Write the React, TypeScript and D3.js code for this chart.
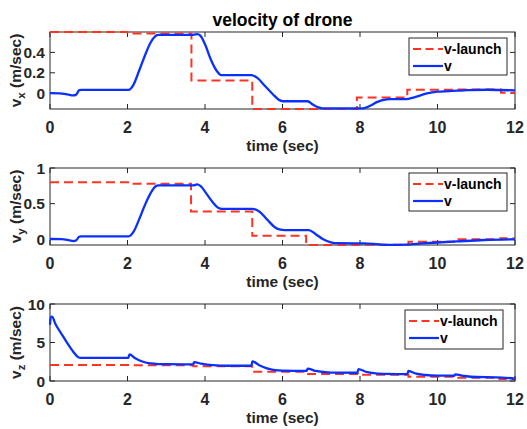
import React from "react";
import * as d3 from "d3";

const W = 527;
const H = 429;

const TIME_TICKS = [0, 2, 4, 6, 8, 10, 12];

// ---- vx ----
const VX_LAUNCH_T = [0, 2.0, 3.65, 5.22, 6.62, 7.92, 9.22, 10.45, 11.64, 12];
const VX_LAUNCH_V = [0.6, 0.585, 0.124, -0.155, -0.155, -0.043, 0.033, 0.035, 0.005, 0.005];
const VX_T = [0, 0.25, 0.45, 0.6, 0.68, 0.75, 0.8, 2.03, 2.15, 2.3, 2.45, 2.6, 2.72, 2.8, 3.7, 3.8, 3.88, 4.0, 4.15, 4.3, 4.42, 5.2, 5.35, 5.55, 5.75, 5.92, 6.02, 6.65, 6.78, 6.92, 7.02, 8.08, 8.25, 8.45, 8.65, 8.75, 9.18, 9.4, 9.7, 10.0, 10.3, 10.8, 11.3, 12];
const VX_V = [0, -0.002, -0.012, -0.022, -0.012, 0.028, 0.033, 0.033, 0.08, 0.22, 0.37, 0.5, 0.56, 0.572, 0.572, 0.58, 0.565, 0.48, 0.33, 0.22, 0.177, 0.177, 0.15, 0.07, -0.01, -0.068, -0.079, -0.079, -0.11, -0.138, -0.148, -0.148, -0.125, -0.085, -0.062, -0.059, -0.058, -0.04, -0.005, 0.015, 0.02, 0.03, 0.034, 0.027];

// ---- vy ----
const VY_LAUNCH_T = [0, 2.05, 3.64, 5.22, 6.61, 7.93, 9.25, 10.48, 11.62, 12];
const VY_LAUNCH_V = [0.8, 0.78, 0.39, 0.05, -0.08, -0.075, -0.034, 0.0, 0.014, 0.014];
const VY_T = [0, 0.3, 0.5, 0.6, 0.68, 0.75, 0.8, 2.03, 2.15, 2.3, 2.45, 2.6, 2.72, 2.8, 3.7, 3.8, 3.88, 4.05, 4.2, 4.35, 4.43, 5.22, 5.4, 5.6, 5.8, 5.95, 6.05, 6.68, 6.85, 7.05, 7.25, 7.42, 8.1, 8.5, 8.8, 9.2, 9.6, 10.0, 10.5, 11.2, 12];
const VY_V = [0.004, 0.002, -0.015, -0.025, -0.012, 0.035, 0.042, 0.042, 0.1, 0.28, 0.48, 0.65, 0.74, 0.755, 0.755, 0.77, 0.75, 0.63, 0.52, 0.44, 0.427, 0.427, 0.39, 0.28, 0.17, 0.135, 0.13, 0.13, 0.075, 0.0, -0.042, -0.055, -0.058, -0.072, -0.078, -0.074, -0.058, -0.045, -0.03, -0.01, 0.0];

// ---- vz ----
const VZ_LAUNCH_T = [0, 2.05, 3.7, 5.22, 6.63, 7.95, 9.25, 10.45, 11.6, 12];
const VZ_LAUNCH_V = [2.08, 2.05, 1.9, 1.2, 0.92, 0.8, 0.56, 0.43, 0.22, 0.22];
const VZ_T = [0, 0.02, 0.05, 0.15, 0.3, 0.45, 0.6, 0.7, 0.78, 2.02, 2.05, 2.2, 2.4, 2.6, 2.8, 3.0, 3.69, 3.72, 3.9, 4.2, 4.6, 5.2, 5.22, 5.4, 5.6, 5.8, 6.0, 6.62, 6.65, 6.85, 7.1, 7.4, 7.93, 7.96, 8.15, 8.4, 8.7, 9.22, 9.25, 9.45, 9.7, 10.0, 10.43, 10.46, 10.7, 11.0, 11.5, 12];
const VZ_V = [7.3, 8.3, 8.35, 7.3, 6.1, 4.9, 3.8, 3.2, 3.0, 3.0, 3.45, 2.95, 2.5, 2.28, 2.2, 2.18, 2.15, 2.45, 2.25, 2.05, 1.98, 1.98, 2.55, 2.05, 1.65, 1.42, 1.35, 1.32, 1.6, 1.3, 1.15, 1.08, 1.07, 1.55, 1.2, 1.0, 0.93, 0.9, 1.3, 0.95, 0.78, 0.7, 0.68, 0.85, 0.65, 0.52, 0.48, 0.32];

const VX_TICKS = [0, 0.2, 0.4];
const VY_TICKS = [0, 0.5, 1];
const VZ_TICKS = [0, 5, 10];

const LEGEND_LABELS = ["v-launch", "v"];

const RED = "#ff3322";
const BLUE = "#0a30ff";
const AX = "#262626";
const FONT = "'Liberation Sans', Arial, Helvetica, sans-serif";

const X0 = 50;
const X1 = 515;

type PanelProps = {
  id: string;
  top: number;
  bottom: number;
  yDomain: [number, number];
  yTicks: number[];
  yFmt: (v: number) => string;
  launchT: number[];
  launchV: number[];
  vT: number[];
  vV: number[];
  sub: string;
  legend: { x: number; y: number; w: number; h: number };
};

function Panel(p: PanelProps) {
  const x = d3.scaleLinear().domain([0, 12]).range([X0, X1]);
  const y = d3.scaleLinear().domain(p.yDomain).range([p.bottom, p.top]);
  const launch = p.launchT.map((t, i) => [t, p.launchV[i]] as [number, number]);
  const vel = p.vT.map((t, i) => [t, p.vV[i]] as [number, number]);
  const stepLine = d3
    .line<[number, number]>()
    .x((d) => x(d[0]))
    .y((d) => y(d[1]))
    .curve(d3.curveStepAfter);
  const smoothLine = d3
    .line<[number, number]>()
    .x((d) => x(d[0]))
    .y((d) => y(d[1]))
    .curve(d3.curveMonotoneX);
  const tl = 5;
  const lg = p.legend;
  const midY = (p.top + p.bottom) / 2;
  return (
    <g>
      <defs>
        <clipPath id={p.id}>
          <rect x={X0 - 2} y={p.top - 2} width={X1 - X0 + 4} height={p.bottom - p.top + 4} />
        </clipPath>
      </defs>
      <rect x={X0} y={p.top} width={X1 - X0} height={p.bottom - p.top} fill="white" stroke={AX} strokeWidth={1} />
      {TIME_TICKS.map((t) => (
        <g key={"xt" + t}>
          <line x1={x(t)} x2={x(t)} y1={p.bottom} y2={p.bottom - tl} stroke={AX} />
          <line x1={x(t)} x2={x(t)} y1={p.top} y2={p.top + tl} stroke={AX} />
          <text x={x(t)} y={p.bottom + 24} textAnchor="middle" fontSize={16} fontWeight="bold" fill={AX} fontFamily={FONT}>
            {t}
          </text>
        </g>
      ))}
      {p.yTicks.map((v) => (
        <g key={"yt" + v}>
          <line x1={X0} x2={X0 + tl} y1={y(v)} y2={y(v)} stroke={AX} />
          <line x1={X1} x2={X1 - tl} y1={y(v)} y2={y(v)} stroke={AX} />
          <text x={45} y={y(v) + 5.5} textAnchor="end" fontSize={15.5} fontWeight="bold" fill={AX} fontFamily={FONT}>
            {p.yFmt(v)}
          </text>
        </g>
      ))}
      <text x={(X0 + X1) / 2} y={p.bottom + 42} textAnchor="middle" fontSize={15.5} fontWeight="bold" fill={AX} fontFamily={FONT}>
        time (sec)
      </text>
      <text transform={`translate(21,${midY}) rotate(-90)`} textAnchor="middle" fontSize={15.5} fontWeight="bold" fill={AX} fontFamily={FONT}>
        v
        <tspan fontSize={11.5} dy={3.5}>{p.sub}</tspan>
        <tspan dy={-3.5}>{" (m/sec)"}</tspan>
      </text>
      <g clipPath={`url(#${p.id})`}>
        <path d={stepLine(launch) || ""} fill="none" stroke={RED} strokeWidth={2} strokeDasharray="9,5" />
        <path d={smoothLine(vel) || ""} fill="none" stroke={BLUE} strokeWidth={2.3} />
      </g>
      <rect x={lg.x} y={lg.y} width={lg.w} height={lg.h} fill="white" stroke={AX} strokeWidth={1} />
      {LEGEND_LABELS.map((lab, i) => {
        const ly = lg.y + 11 + i * 17;
        return (
          <g key={lab}>
            <line x1={lg.x + 4} x2={lg.x + 34} y1={ly} y2={ly} stroke={i === 0 ? RED : BLUE} strokeWidth={2.2} strokeDasharray={i === 0 ? "8,4.5" : undefined} />
            <text x={lg.x + 35} y={ly + 5} fontSize={14} fontWeight="bold" fill="#000" fontFamily={FONT}>
              {lab}
            </text>
          </g>
        );
      })}
    </g>
  );
}

export default function App() {
  return (
    <svg width={W} height={H} style={{ position: "absolute", left: 0, top: 0, background: "white" }}>
      <rect x={0} y={0} width={W} height={H} fill="white" />
      <text x={(X0 + X1) / 2} y={26} textAnchor="middle" fontSize={17.5} fontWeight="bold" fill="#000" fontFamily={FONT}>
        velocity of drone
      </text>
      <Panel
        id="c1"
        top={32}
        bottom={109}
        yDomain={[-0.155, 0.6]}
        yTicks={VX_TICKS}
        yFmt={(v) => (v === 0 ? "0" : d3.format(".1f")(v))}
        launchT={VX_LAUNCH_T}
        launchV={VX_LAUNCH_V}
        vT={VX_T}
        vV={VX_V}
        sub="x"
        legend={{ x: 409, y: 38, w: 98, h: 37 }}
      />
      <Panel
        id="c2"
        top={168}
        bottom={245}
        yDomain={[-0.08, 1]}
        yTicks={VY_TICKS}
        yFmt={(v) => String(v)}
        launchT={VY_LAUNCH_T}
        launchV={VY_LAUNCH_V}
        vT={VY_T}
        vV={VY_V}
        sub="y"
        legend={{ x: 409, y: 173, w: 98, h: 38 }}
      />
      <Panel
        id="c3"
        top={304}
        bottom={381}
        yDomain={[0, 10]}
        yTicks={VZ_TICKS}
        yFmt={(v) => String(v)}
        launchT={VZ_LAUNCH_T}
        launchV={VZ_LAUNCH_V}
        vT={VZ_T}
        vV={VZ_V}
        sub="z"
        legend={{ x: 405, y: 310, w: 98, h: 39 }}
      />
    </svg>
  );
}
